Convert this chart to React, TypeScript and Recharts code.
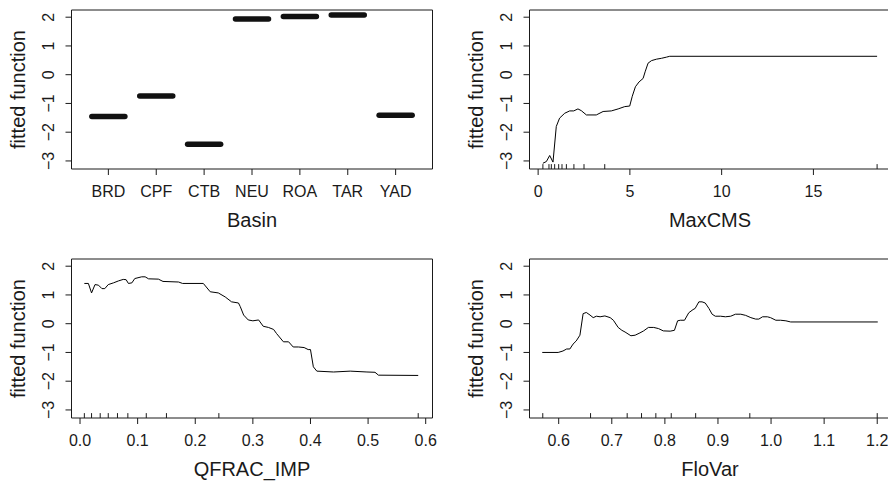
import React from "react";
import {
  ComposedChart,
  Line,
  XAxis,
  YAxis,
  ReferenceArea,
  ReferenceLine,
  Label
} from "recharts";

// panel 1: factor effect per basin
const basins = ["BRD", "CPF", "CTB", "NEU", "ROA", "TAR", "YAD"];
const basinEffect = [-1.45, -0.74, -2.42, 1.94, 2.02, 2.08, -1.41];

// panel 2: MaxCMS
const maxCmsX = [
  0.26, 0.45, 0.63, 0.81, 0.99, 1.17, 1.45, 1.72, 1.94, 2.17, 2.35, 2.63, 3.17,
  3.54, 3.99, 4.36, 4.72, 4.99, 5.13, 5.3, 5.5, 5.72, 5.83, 5.99, 6.18, 6.45,
  6.72, 6.99, 7.17, 18.47
];
const maxCmsFit = [
  -3.08, -3.02, -2.81, -3.04, -1.8, -1.51, -1.34, -1.26, -1.26, -1.19, -1.25,
  -1.4, -1.4, -1.28, -1.26, -1.19, -1.11, -1.09, -0.75, -0.42, -0.25, -0.13,
  0.1, 0.4, 0.49, 0.54, 0.57, 0.61, 0.64, 0.64
];
const maxCmsRug = [0.26, 0.59, 0.72, 0.9, 1.12, 1.3, 1.54, 1.95, 2.5, 3.63, 18.47];
const maxCmsTicks = [0, 5, 10, 15];

// panel 3: QFRAC_IMP
const qfracX = [
  0.0075, 0.0145, 0.02, 0.026, 0.032, 0.038, 0.043, 0.049, 0.058, 0.067, 0.075,
  0.08, 0.084, 0.09, 0.095, 0.107, 0.113, 0.119, 0.136, 0.144, 0.171, 0.178,
  0.214, 0.226, 0.24, 0.252, 0.263, 0.275, 0.278, 0.284, 0.292, 0.3, 0.31,
  0.318, 0.327, 0.336, 0.341, 0.353, 0.362, 0.37, 0.379, 0.389, 0.396, 0.4,
  0.405, 0.411, 0.44, 0.469, 0.498, 0.512, 0.518, 0.587
];
const qfracFit = [
  1.4, 1.4, 1.07, 1.36, 1.34, 1.22, 1.22, 1.36, 1.42, 1.49, 1.54, 1.53, 1.4,
  1.42, 1.57, 1.63, 1.63, 1.56, 1.55, 1.47, 1.45, 1.4, 1.4, 1.11, 1.07, 0.93,
  0.76, 0.72, 0.6, 0.3, 0.13, 0.1, 0.13, -0.09, -0.13, -0.2, -0.34, -0.63,
  -0.63, -0.81, -0.81, -0.83, -0.9, -0.9, -1.5, -1.65, -1.68, -1.65, -1.68,
  -1.69, -1.79, -1.8
];
const qfracRug = [0.0075, 0.02, 0.035, 0.049, 0.065, 0.083, 0.115, 0.15, 0.241, 0.587];
const qfracTicks = [0, 0.1, 0.2, 0.3, 0.4, 0.5, 0.6];

// panel 4: FloVar
const floVarX = [
  0.569, 0.599, 0.608, 0.615, 0.621, 0.627, 0.633, 0.64, 0.646, 0.652, 0.659,
  0.665, 0.671, 0.678, 0.687, 0.697, 0.703, 0.712, 0.719, 0.725, 0.736, 0.744,
  0.753, 0.76, 0.769, 0.779, 0.788, 0.797, 0.81, 0.818, 0.824, 0.829, 0.837,
  0.845, 0.853, 0.857, 0.864, 0.87, 0.876, 0.883, 0.889, 0.895, 0.905, 0.914,
  0.924, 0.933, 0.943, 0.952, 0.962, 0.971, 0.977, 0.984, 0.993, 0.999, 1.009,
  1.018, 1.028, 1.037, 1.201
];
const floVarFit = [
  -1.0, -1.0, -0.95, -0.88, -0.88, -0.71, -0.6, -0.4, 0.35, 0.39, 0.3, 0.21,
  0.26, 0.24, 0.27, 0.21, 0.12, -0.13, -0.23, -0.29, -0.42, -0.4, -0.32, -0.25,
  -0.13, -0.13, -0.17, -0.25, -0.26, -0.23, 0.1, 0.12, 0.12, 0.38, 0.49, 0.53,
  0.76, 0.76, 0.72, 0.53, 0.33, 0.26, 0.26, 0.24, 0.26, 0.33, 0.33, 0.29, 0.21,
  0.16, 0.16, 0.24, 0.24, 0.21, 0.12, 0.12, 0.1, 0.06, 0.06
];
const floVarRug = [0.57, 0.66, 0.729, 0.756, 0.783, 0.812, 0.858, 0.96, 1.2];
const floVarTicks = [0.6, 0.7, 0.8, 0.9, 1.0, 1.1, 1.2];

const yTicks = [-3, -2, -1, 0, 1, 2];

const W = 444;
const H = 240;
const PLOT_LEFT = 71.5;
const PLOT_TOP = 10;
const PLOT_W = 361;
const PLOT_H = 159;
const Y_DOMAIN: [number, number] = [-3.28, 2.25];
const RUG_LEN = 0.17;
const BAR_HALF = 0.345;
const TICK_FONT = 16;
const ink = "#1a1a1a";
const font = '"Liberation Sans", Arial, Helvetica, sans-serif';

const zip = (xs: number[], ys: number[]) => xs.map((x, i) => ({ x, y: ys[i] }));
const signed = (v: number) => (v < 0 ? "\u2212" + Math.abs(v) : String(v));

function Panel({
  left,
  top,
  xDomain,
  xTicks,
  xFormat,
  xTitle,
  children
}: {
  left: number;
  top: number;
  xDomain: [number, number];
  xTicks: number[];
  xFormat: (v: number) => string;
  xTitle: string;
  children: React.ReactNode;
}) {
  const yMid = PLOT_TOP + PLOT_H / 2;
  return (
    <div style={{ position: "absolute", left, top, width: W, height: H }}>
      <ComposedChart
        width={W}
        height={H}
        margin={{ top: PLOT_TOP, right: W - PLOT_LEFT - PLOT_W, bottom: 0, left: 0 }}
      >
        <XAxis
          type="number"
          dataKey="x"
          domain={xDomain}
          ticks={xTicks}
          interval={0}
          allowDataOverflow
          height={H - PLOT_TOP - PLOT_H}
          axisLine={false}
          tickLine={{ stroke: ink }}
          tickSize={6}
          tickMargin={0}
          tick={(p: any) => (
            <text
              x={p.x}
              y={p.y + 21.5}
              textAnchor="middle"
              fontSize={TICK_FONT}
              fontFamily={font}
              fill={ink}
            >
              {xFormat(p.payload.value)}
            </text>
          )}
        >
          <Label
            content={() => (
              <text
                x={PLOT_LEFT + PLOT_W / 2}
                y={227}
                textAnchor="middle"
                fontSize={20}
                fontFamily={font}
                fill={ink}
              >
                {xTitle}
              </text>
            )}
          />
        </XAxis>
        <YAxis
          type="number"
          domain={Y_DOMAIN}
          ticks={yTicks}
          interval={0}
          allowDataOverflow
          width={PLOT_LEFT}
          axisLine={false}
          tickLine={{ stroke: ink }}
          tickSize={6}
          tickMargin={0}
          tick={(p: any) => (
            <text
              x={p.x - 17}
              y={p.y}
              dy="0.35em"
              transform={`rotate(-90 ${p.x - 17} ${p.y})`}
              textAnchor="middle"
              fontSize={TICK_FONT}
              fontFamily={font}
              fill={ink}
            >
              {signed(p.payload.value)}
            </text>
          )}
        >
          <Label
            content={() => (
              <text
                x={25}
                y={yMid}
                transform={`rotate(-90 25 ${yMid})`}
                textAnchor="middle"
                fontSize={20}
                fontFamily={font}
                fill={ink}
              >
                fitted function
              </text>
            )}
          />
        </YAxis>
        <ReferenceArea
          x1={xDomain[0]}
          x2={xDomain[1]}
          y1={Y_DOMAIN[0]}
          y2={Y_DOMAIN[1]}
          fill="none"
          stroke={ink}
          strokeWidth={1}
          ifOverflow="visible"
        />
        {children}
      </ComposedChart>
    </div>
  );
}

function rugMarks(values: number[]) {
  return values.map((v, i) => (
    <ReferenceLine
      key={"rug" + i}
      segment={[
        { x: v, y: Y_DOMAIN[0] },
        { x: v, y: Y_DOMAIN[0] + RUG_LEN }
      ]}
      stroke={ink}
      strokeWidth={1}
      ifOverflow="visible"
    />
  ));
}

function curve(xs: number[], ys: number[]) {
  return (
    <Line
      key="curve"
      data={zip(xs, ys)}
      dataKey="y"
      type="linear"
      stroke="#000"
      strokeWidth={1}
      dot={false}
      activeDot={false}
      isAnimationActive={false}
    />
  );
}

export default function App() {
  const basinIndex = basins.map((_, i) => i + 1);
  return (
    <div
      style={{
        position: "absolute",
        left: 0,
        top: 0,
        width: 888,
        height: 481,
        overflow: "hidden",
        background: "#fff"
      }}
    >
      <Panel
        left={0}
        top={0}
        xDomain={[0.23, 7.77]}
        xTicks={basinIndex}
        xFormat={v => basins[v - 1] ?? ""}
        xTitle="Basin"
      >
        {basinEffect.map((v, i) => (
          <Line
            key={basins[i]}
            data={[
              { x: i + 1 - BAR_HALF, y: v },
              { x: i + 1 + BAR_HALF, y: v }
            ]}
            dataKey="y"
            type="linear"
            stroke="#111"
            strokeWidth={5.5}
            strokeLinecap="round"
            dot={false}
            activeDot={false}
            isAnimationActive={false}
          />
        ))}
      </Panel>
      <Panel
        left={458}
        top={0}
        xDomain={[-0.47, 19.2]}
        xTicks={maxCmsTicks}
        xFormat={v => String(v)}
        xTitle="MaxCMS"
      >
        {[...rugMarks(maxCmsRug), curve(maxCmsX, maxCmsFit)]}
      </Panel>
      <Panel
        left={0}
        top={249}
        xDomain={[-0.0148, 0.6118]}
        xTicks={qfracTicks}
        xFormat={v => v.toFixed(1)}
        xTitle="QFRAC_IMP"
      >
        {[...rugMarks(qfracRug), curve(qfracX, qfracFit)]}
      </Panel>
      <Panel
        left={458}
        top={249}
        xDomain={[0.545, 1.225]}
        xTicks={floVarTicks}
        xFormat={v => v.toFixed(1)}
        xTitle="FloVar"
      >
        {[...rugMarks(floVarRug), curve(floVarX, floVarFit)]}
      </Panel>
    </div>
  );
}
